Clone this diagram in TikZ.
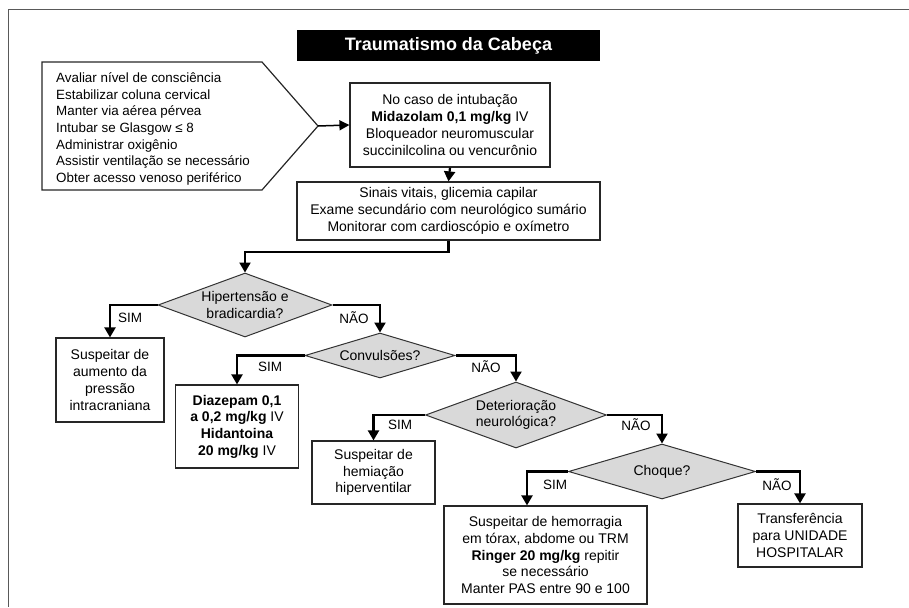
\documentclass[tikz,border=0pt]{standalone}
\usepackage{fontspec}
\setmainfont{Liberation Sans}
\usetikzlibrary{arrows.meta,shapes.geometric}
\begin{document}
\begin{tikzpicture}[x=1pt,y=-1pt,
 box/.style={draw=black!85, line width=1.2pt, fill=white, align=center, inner sep=2pt, font=\fontsize{14}{16.7}\selectfont},
 dia/.style={diamond, draw=black!80, line width=1pt, fill=black!15, inner sep=0pt},
 dtext/.style={align=center, inner sep=0pt, font=\fontsize{14}{16.7}\selectfont},
 conn/.style={line width=2.2pt, -{Triangle[length=10pt,width=11pt]}},
 lab/.style={font=\fontsize{13.5}{15}\selectfont, inner sep=0pt},
]
\useasboundingbox (0,0) rectangle (909,607);
% frame
\draw[black!65, line width=1.5pt] (909,9.5) -- (8.5,9.5) -- (8.5,607);
% title
\node[fill=black, text=white, minimum width=303pt, minimum height=31pt, inner sep=0pt,
  font=\fontsize{18}{20}\selectfont\bfseries] (title) at (448.5,45.5) {Traumatismo da Cabeça};
% pentagon
\draw[black!85, line width=1.2pt] (42,62) -- (262,62) -- (318,126) -- (262,190) -- (42,190) -- cycle;
\coordinate (tip) at (318,126);
\node[anchor=west, align=left, inner sep=0pt, font=\fontsize{13.4}{16.7}\selectfont] (ptext) at (56,129)
 {Avaliar nível de consciência\\Estabilizar coluna cervical\\Manter via aérea pérvea\\Intubar se Glasgow ≤ 8\\Administrar oxigênio\\Assistir ventilação se necessário\\Obter acesso venoso periférico};
% boxes
\node[box, minimum width=200pt, minimum height=84pt] (b1) at (450,125)
 {No caso de intubação\\\textbf{Midazolam 0,1 mg/kg} IV\\Bloqueador neuromuscular\\succinilcolina ou vencurônio};
\node[box, minimum width=303pt, minimum height=58pt] (b2) at (448.5,211)
 {Sinais vitais, glicemia capilar\\Exame secundário com neurológico sumário\\Monitorar com cardioscópio e oxímetro};
\node[box, minimum width=108pt, minimum height=84pt] (b3) at (110,380)
 {Suspeitar de\\aumento da\\pressão\\intracraniana};
\node[box, minimum width=123pt, minimum height=83pt] (b4) at (237,426.5)
 {\textbf{Diazepam 0,1}\\\textbf{a 0,2 mg/kg} IV\\\textbf{Hidantoina}\\\textbf{20 mg/kg} IV};
\node[box, minimum width=123pt, minimum height=63pt] (b5) at (373.5,472.5)
 {Suspeitar de\\hemiação\\hiperventilar};
\node[box, minimum width=203pt, minimum height=98pt] (b6) at (545.5,555)
 {Suspeitar de hemorragia\\em tórax, abdome ou TRM\\\textbf{Ringer 20 mg/kg} repitir\\se necessário\\Manter PAS entre 90 e 100};
\node[box, minimum width=124pt, minimum height=63pt] (b7) at (800,535.5)
 {Transferência\\para UNIDADE\\HOSPITALAR};
% diamonds
\node[dia, minimum width=174pt, minimum height=64pt] (d1) at (245,305) {};
\node[dtext] (d1t) at (d1) {Hipertensão e\\bradicardia?};
\node[dia, minimum width=150pt, minimum height=45pt] (d2) at (380,355.5) {};
\node[dtext] (d2t) at (d2) {Convulsões?};
\node[dia, minimum width=181pt, minimum height=66pt] (d3) at (516,415) {};
\node[dtext] (d3t) at (d3) {Deterioração\\neurológica?};
\node[dia, minimum width=187pt, minimum height=55pt] (d4) at (662,471.5) {};
\node[dtext] (d4t) at (d4) {Choque?};
% connectors
\draw[line width=1.5pt, -{Triangle[length=10pt,width=10pt]}] (tip) -- (b1.west);
\draw[conn] (b1.south) -- (b2.north);
\draw[conn] (b2.south) -- ++(0,11) -| (d1.north);
\draw[conn] (d1.west) -| (b3.north);
\draw[conn] (d1.east) -| (d2.north);
\draw[conn] (d2.west) -| (b4.north);
\draw[conn] (d2.east) -| (d3.north);
\draw[conn] (d3.west) -| (b5.north);
\draw[conn] (d3.east) -| (d4.north);
\draw[conn] (d4.west) -| ([xshift=-18.5pt]b6.north);
\draw[conn] (d4.east) -| (b7.north);
% labels
\node[lab] (l1) at (130,318) {SIM};
\node[lab] (l2) at (354,318) {NÃO};
\node[lab] (l3) at (270,367) {SIM};
\node[lab] (l4) at (486,367) {NÃO};
\node[lab] (l5) at (400,425) {SIM};
\node[lab] (l6) at (636,425) {NÃO};
\node[lab] (l7) at (555,485) {SIM};
\node[lab] (l8) at (777,485) {NÃO};
\end{tikzpicture}
\end{document}
